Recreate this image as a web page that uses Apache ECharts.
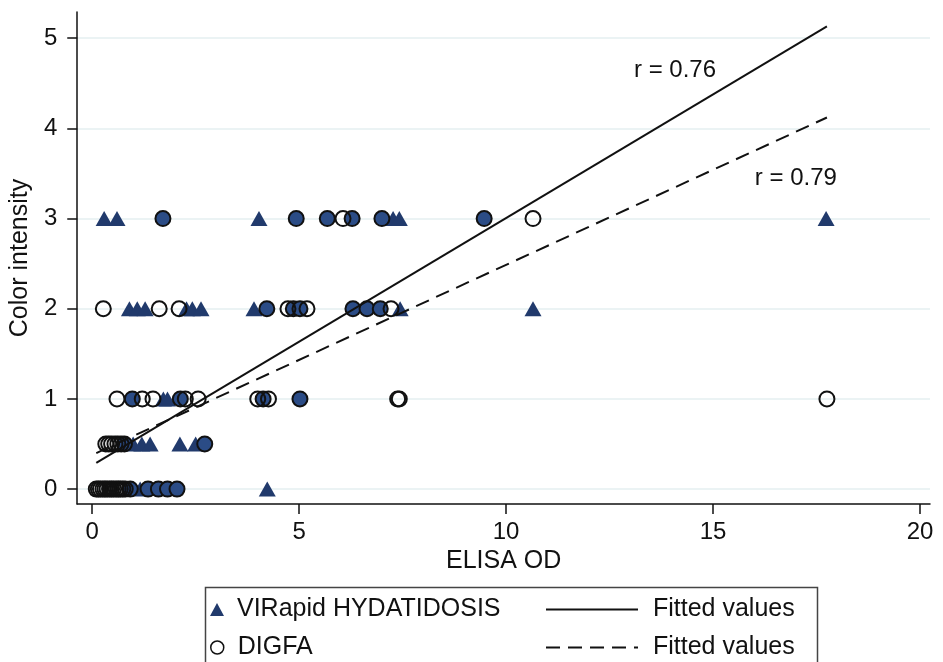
<!DOCTYPE html>
<html>
<head>
<meta charset="utf-8">
<script src="https://cdn.jsdelivr.net/npm/echarts@6/dist/echarts.min.js"></script>
<style>html,body{margin:0;padding:0;background:#fff;}#c{width:943px;height:662px;}</style>
</head>
<body>
<div id="c"></div>
<script>
// ---- data (ELISA OD, Color intensity) ----
const xTicks = [0, 5, 10, 15, 20];
const yTicks = [0, 1, 2, 3, 4, 5];

// VIRapid HYDATIDOSIS only (triangles)
const virapid = [
  [0.29,3],[0.60,3],[4.03,3],[7.27,3],[7.42,3],[17.73,3],
  [0.90,2],[1.09,2],[1.28,2],[2.28,2],[2.42,2],[2.63,2],[3.91,2],[7.44,2],[10.65,2],
  [1.72,1],[1.82,1],
  [0.99,0.5],[1.20,0.5],[1.40,0.5],[2.12,0.5],[2.50,0.5],
  [1.16,0],[4.23,0]
];
// points where both tests coincide (filled circles)
const both = [
  [1.71,3],[4.93,3],[5.68,3],[6.28,3],[7.00,3],[9.47,3],
  [4.22,2],[4.86,2],[5.02,2],[6.30,2],[6.64,2],[6.96,2],
  [0.97,1],[2.13,1],[4.13,1],[5.02,1],
  [0.78,0.5],[2.72,0.5],
  [0.92,0],[1.35,0],[1.60,0],[1.82,0],[2.05,0]
];
// DIGFA only (hollow circles)
const digfa = [
  [6.06,3],[10.65,3],
  [0.27,2],[1.62,2],[2.10,2],[4.73,2],[5.19,2],[7.22,2],
  [0.60,1],[1.21,1],[1.47,1],[2.25,1],[2.56,1],[4.00,1],[4.26,1],[7.38,1],[7.42,1],[17.75,1],
  [0.33,0.5],[0.40,0.5],[0.47,0.5],[0.55,0.5],[0.62,0.5],[0.70,0.5],
  [0.10,0],[0.15,0],[0.20,0],[0.26,0],[0.31,0],[0.36,0],[0.42,0],[0.47,0],[0.52,0],[0.58,0],[0.63,0],[0.68,0],[0.74,0],[0.80,0]
];
// fitted lines
const fitVirapid = [[0.1,0.29],[17.75,5.13]];
const fitDigfa = [[0.1,0.40],[17.75,4.12]];
// correlation annotations
const rTexts = ['r = 0.76', 'r = 0.79'];
const rCoords = [[14.08, 4.63], [17.0, 3.43]];

const FONT = "'Liberation Sans', Arial, sans-serif";
const NAVY = '#213a6c';
const chart = echarts.init(document.getElementById('c'), null, { renderer: 'canvas' });

const legendText = { fontFamily: FONT, fontSize: 25, color: '#111' };

chart.setOption({
  backgroundColor: '#fff',
  animation: false,
  grid: { left: 77, right: 13, top: 12, bottom: 158 },
  xAxis: {
    type: 'value', min: -0.36, max: 20.24,
    name: 'ELISA OD', nameLocation: 'middle', nameGap: 44,
    nameTextStyle: { fontFamily: FONT, fontSize: 25, color: '#111' },
    axisLine: { show: true, onZero: false, lineStyle: { color: '#111', width: 1.5 } },
    axisTick: { show: true, inside: false, length: 10, customValues: xTicks, lineStyle: { color: '#111', width: 1.5 } },
    axisLabel: { customValues: xTicks, margin: 16, fontFamily: FONT, fontSize: 24, color: '#111' },
    splitLine: { show: false }
  },
  yAxis: {
    type: 'value', min: -0.165, max: 5.29,
    name: 'Color intensity', nameLocation: 'middle', nameGap: 37, nameRotate: 90,
    nameTextStyle: { fontFamily: FONT, fontSize: 25, color: '#111' },
    axisLine: { show: true, onZero: false, lineStyle: { color: '#111', width: 1.5 } },
    axisTick: { show: true, inside: false, length: 10, customValues: yTicks, lineStyle: { color: '#111', width: 1.5 } },
    axisLabel: { customValues: yTicks, margin: 20, fontFamily: FONT, fontSize: 24, color: '#111' },
    splitLine: { show: true, lineStyle: { color: '#e4eff0', width: 1.5 } }
  },
  legend: [
    { left: 210, top: 597, padding: 0, selectedMode: false, itemWidth: 14, itemHeight: 13,
      data: ['VIRapid HYDATIDOSIS'], textStyle: Object.assign({ padding: [0, 0, 0, 8] }, legendText) },
    { left: 210, top: 635, padding: 0, selectedMode: false, itemWidth: 13, itemHeight: 13,
      data: ['DIGFA'], textStyle: Object.assign({ padding: [0, 0, 0, 9] }, legendText),
      itemStyle: { borderWidth: 1.5 } },
    { left: 545, top: 597, padding: 0, selectedMode: false, itemWidth: 92, itemHeight: 14,
      data: ['Fitted values (VIRapid)'], formatter: () => 'Fitted values',
      itemStyle: { opacity: 0 }, textStyle: Object.assign({ padding: [0, 0, 0, 10] }, legendText) },
    { left: 545, top: 635, padding: 0, selectedMode: false, itemWidth: 92, itemHeight: 14,
      data: ['Fitted values (DIGFA)'], formatter: () => 'Fitted values',
      itemStyle: { opacity: 0 }, textStyle: Object.assign({ padding: [0, 0, 0, 10] }, legendText) }
  ],
  graphic: [{
    type: 'rect', left: 203, top: 585, silent: true, z: -1,
    shape: { width: 612, height: 90 },
    style: { fill: 'none', stroke: '#444', lineWidth: 1.5 }
  }],
  series: [
    {
      name: 'VIRapid HYDATIDOSIS', type: 'scatter', data: virapid,
      symbol: 'triangle', symbolSize: [17, 15],
      itemStyle: { color: NAVY, borderColor: NAVY, borderWidth: 0, opacity: 1 }, z: 2
    },
    {
      name: 'Both', type: 'scatter', data: both,
      symbol: 'circle', symbolSize: 15,
      itemStyle: { color: '#2b4c86', borderColor: '#111', borderWidth: 2, opacity: 1 }, z: 3
    },
    {
      name: 'DIGFA', type: 'scatter', data: digfa,
      symbol: 'circle', symbolSize: 15,
      itemStyle: { color: 'rgba(255,255,255,0)', borderColor: '#111', borderWidth: 2, opacity: 1 }, z: 4
    },
    {
      name: 'Fitted values (VIRapid)', type: 'line', data: fitVirapid, symbol: 'none', z: 5,
      itemStyle: { color: '#111' },
      lineStyle: { color: '#111', width: 2, type: 'solid' }
    },
    {
      name: 'Fitted values (DIGFA)', type: 'line', data: fitDigfa, symbol: 'none', z: 5,
      itemStyle: { color: '#111' },
      lineStyle: { color: '#111', width: 2, type: [14, 8] }
    },
    {
      name: 'r labels', type: 'scatter', z: 6, silent: true,
      data: rTexts.map((t, i) => ({ name: t, value: rCoords[i] })),
      symbol: 'circle', symbolSize: 2,
      itemStyle: { color: '#fff', opacity: 0 },
      label: {
        show: true, position: 'top', distance: -12, formatter: p => p.name,
        fontFamily: FONT, fontSize: 24, color: '#111', opacity: 1,
        textBorderWidth: 0
      },
      labelLayout: { hideOverlap: false }
    }
  ]
});
</script>
</body>
</html>
